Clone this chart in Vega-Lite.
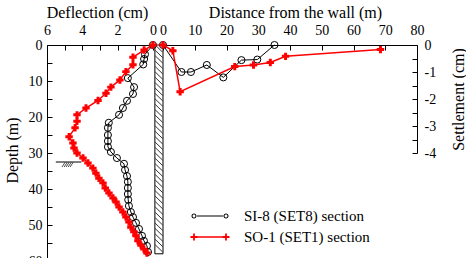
{
  "$schema": "https://vega.github.io/schema/vega-lite/v6.json",
  "background": "white",
  "padding": {"left": 4, "top": 4, "right": 2, "bottom": 0},
  "datasets": {
    "si8d": [
      {"defl": 0, "depth": 0}, {"defl": 0.45, "depth": 2.6}, {"defl": 0.5, "depth": 3.9}, {"defl": 0.55, "depth": 5.4},
      {"defl": 1.42, "depth": 9.2}, {"defl": 1.07, "depth": 11.7}, {"defl": 1.13, "depth": 13.6}, {"defl": 1.47, "depth": 15.5},
      {"defl": 1.7, "depth": 17.5}, {"defl": 1.92, "depth": 19.4}, {"defl": 2.5, "depth": 21.6}, {"defl": 2.55, "depth": 23},
      {"defl": 2.55, "depth": 25}, {"defl": 2.55, "depth": 26.7}, {"defl": 2.55, "depth": 28.3}, {"defl": 2.38, "depth": 29.7},
      {"defl": 2.04, "depth": 31.4}, {"defl": 1.64, "depth": 33}, {"defl": 1.58, "depth": 34.7}, {"defl": 1.47, "depth": 36.4},
      {"defl": 1.42, "depth": 38}, {"defl": 1.42, "depth": 39.7}, {"defl": 1.42, "depth": 41.4}, {"defl": 1.4, "depth": 43},
      {"defl": 1.36, "depth": 44.7}, {"defl": 1.25, "depth": 46.4}, {"defl": 1.13, "depth": 47.8}, {"defl": 0.96, "depth": 49.4},
      {"defl": 0.79, "depth": 51.1}, {"defl": 0.62, "depth": 53}, {"defl": 0.51, "depth": 54.4}, {"defl": 0.34, "depth": 55.8},
      {"defl": 0.28, "depth": 57.5}
    ],
    "so1d": [
      {"defl": 0, "depth": 0}, {"defl": 0.5, "depth": 1.4}, {"defl": 1.13, "depth": 3.4}, {"defl": 1.13, "depth": 5.5},
      {"defl": 1.53, "depth": 7.4}, {"defl": 1.87, "depth": 9.7}, {"defl": 2.38, "depth": 11.7}, {"defl": 2.66, "depth": 13.4},
      {"defl": 3.11, "depth": 15.4}, {"defl": 3.79, "depth": 17.5}, {"defl": 4.3, "depth": 19.4}, {"defl": 4.3, "depth": 21.2},
      {"defl": 4.41, "depth": 23}, {"defl": 4.75, "depth": 25.5}, {"defl": 4.53, "depth": 27.2}, {"defl": 4.47, "depth": 28.6},
      {"defl": 4.3, "depth": 30}, {"defl": 3.96, "depth": 31.4}, {"defl": 3.68, "depth": 32.8}, {"defl": 3.4, "depth": 34.2},
      {"defl": 3.23, "depth": 35.6}, {"defl": 3.06, "depth": 37}, {"defl": 2.83, "depth": 38.3}, {"defl": 2.7, "depth": 39.7},
      {"defl": 2.49, "depth": 41.1}, {"defl": 2.26, "depth": 42.5}, {"defl": 2.09, "depth": 43.6}, {"defl": 1.92, "depth": 45},
      {"defl": 1.7, "depth": 46.4}, {"defl": 1.53, "depth": 47.8}, {"defl": 1.36, "depth": 49.2}, {"defl": 1.25, "depth": 50.6},
      {"defl": 1.08, "depth": 51.9}, {"defl": 0.96, "depth": 53}, {"defl": 0.85, "depth": 54.4}, {"defl": 0.68, "depth": 55.6},
      {"defl": 0.51, "depth": 56.7}, {"defl": 0.34, "depth": 57.8}
    ],
    "si8s": [
      {"dist": 0, "settle": 0}, {"dist": 5.8, "settle": -1.0}, {"dist": 8.8, "settle": -1.0}, {"dist": 13.8, "settle": -0.74},
      {"dist": 19, "settle": -1.2}, {"dist": 24.7, "settle": -0.56}, {"dist": 29.7, "settle": -0.54}, {"dist": 35.1, "settle": 0}
    ],
    "so1s": [
      {"dist": 0, "settle": 0}, {"dist": 3.1, "settle": -0.21}, {"dist": 5.4, "settle": -1.73}, {"dist": 22.6, "settle": -0.8},
      {"dist": 28.5, "settle": -0.74}, {"dist": 33.8, "settle": -0.65}, {"dist": 38.6, "settle": -0.42}, {"dist": 68.5, "settle": -0.17}
    ],
    "wall": [{"left": -0.11, "right": -0.57, "top": 0, "bottom": 58}],
    "hatch": [
      {"h0": 0, "h1": 2}, {"h0": 1.5, "h1": 3.5}, {"h0": 3, "h1": 5}, {"h0": 4.5, "h1": 6.5}, {"h0": 6, "h1": 8},
      {"h0": 7.5, "h1": 9.5}, {"h0": 9, "h1": 11}, {"h0": 10.5, "h1": 12.5}, {"h0": 12, "h1": 14}, {"h0": 13.5, "h1": 15.5},
      {"h0": 15, "h1": 17}, {"h0": 16.5, "h1": 18.5}, {"h0": 18, "h1": 20}, {"h0": 19.5, "h1": 21.5}, {"h0": 21, "h1": 23},
      {"h0": 22.5, "h1": 24.5}, {"h0": 24, "h1": 26}, {"h0": 25.5, "h1": 27.5}, {"h0": 27, "h1": 29}, {"h0": 28.5, "h1": 30.5},
      {"h0": 30, "h1": 32}, {"h0": 31.5, "h1": 33.5}, {"h0": 33, "h1": 35}, {"h0": 34.5, "h1": 36.5}, {"h0": 36, "h1": 38},
      {"h0": 37.5, "h1": 39.5}, {"h0": 39, "h1": 41}, {"h0": 40.5, "h1": 42.5}, {"h0": 42, "h1": 44}, {"h0": 43.5, "h1": 45.5},
      {"h0": 45, "h1": 47}, {"h0": 46.5, "h1": 48.5}, {"h0": 48, "h1": 50}, {"h0": 49.5, "h1": 51.5}, {"h0": 51, "h1": 53},
      {"h0": 52.5, "h1": 54.5}, {"h0": 54, "h1": 56}, {"h0": 55.5, "h1": 57.5}
    ],
    "ground": [{"a": 5.5, "b": 4.05, "depth": 32.5}],
    "groundHatch": [
      {"a": 5.15, "b": 4.98, "z0": 33.9, "z1": 32.6}, {"a": 5.03, "b": 4.86, "z0": 33.9, "z1": 32.6},
      {"a": 4.92, "b": 4.75, "z0": 33.9, "z1": 32.6}, {"a": 4.8, "b": 4.63, "z0": 33.9, "z1": 32.6},
      {"a": 4.69, "b": 4.52, "z0": 33.9, "z1": 32.6}
    ]
  },
  "spacing": 0,
  "bounds": "flush",
  "resolve": {
    "scale": {"x": "independent", "y": "independent", "color": "independent", "shape": "independent"},
    "legend": {"color": "independent", "shape": "independent"}
  },
  "hconcat": [
    {
      "width": 116,
      "height": 216,
      "layer": [
        {
          "data": {"name": "wall"},
          "mark": {"type": "rect", "fill": "white", "stroke": "black", "strokeWidth": 1},
          "encoding": {
            "x": {
              "field": "left", "type": "quantitative",
              "scale": {"domain": [-0.57, 6], "reverse": true, "nice": false, "zero": false},
              "axis": {
                "orient": "top", "title": "Deflection (cm)", "values": [0, 1, 2, 3, 4, 5, 6], "tickCount": 100,
                "labelExpr": "datum.value % 2 == 0 ? '' + datum.value : ''",
                "tickSize": -5, "labelPadding": 13, "labelFlush": false, "labelOverlap": false, "grid": false,
                "titleX": 50, "titleY": -28, "titleBaseline": "alphabetic", "titleAnchor": null
              }
            },
            "x2": {"field": "right"},
            "y": {
              "field": "top", "type": "quantitative",
              "scale": {"domain": [0, 60], "reverse": true, "nice": false, "zero": false},
              "axis": {
                "orient": "left", "title": "Depth (m)", "values": [0, 5, 10, 15, 20, 25, 30, 35, 40, 45, 50, 55, 60], "tickCount": 100,
                "labelExpr": "datum.value % 10 == 0 ? '' + datum.value : ''",
                "tickSize": -5, "labelPadding": 10, "labelFlush": false, "labelOverlap": false, "grid": false,
                "titleX": -35, "titleY": 105, "titleBaseline": "middle", "titleAngle": 270
              }
            },
            "y2": {"field": "bottom"}
          }
        },
        {
          "data": {"name": "hatch"},
          "mark": {"type": "rule", "stroke": "black", "strokeWidth": 0.8},
          "encoding": {
            "x": {"datum": -0.13, "type": "quantitative"},
            "x2": {"datum": -0.55},
            "y": {"field": "h0", "type": "quantitative"},
            "y2": {"field": "h1"}
          }
        },
        {
          "data": {"name": "ground"},
          "mark": {"type": "rule", "stroke": "black", "strokeWidth": 1},
          "encoding": {
            "x": {"field": "a", "type": "quantitative"},
            "x2": {"field": "b"},
            "y": {"field": "depth", "type": "quantitative"}
          }
        },
        {
          "data": {"name": "groundHatch"},
          "mark": {"type": "rule", "stroke": "black", "strokeWidth": 0.7},
          "encoding": {
            "x": {"field": "a", "type": "quantitative"},
            "x2": {"field": "b"},
            "y": {"field": "z0", "type": "quantitative"},
            "y2": {"field": "z1"}
          }
        },
        {
          "data": {"name": "si8d"},
          "mark": {"type": "line", "color": "black", "strokeWidth": 1},
          "encoding": {
            "x": {"field": "defl", "type": "quantitative"},
            "y": {"field": "depth", "type": "quantitative"},
            "order": {"field": "depth"}
          }
        },
        {
          "data": {"name": "si8d"},
          "mark": {"type": "point", "shape": "circle", "filled": false, "stroke": "black", "strokeWidth": 1, "size": 50, "opacity": 1},
          "encoding": {
            "x": {"field": "defl", "type": "quantitative"},
            "y": {"field": "depth", "type": "quantitative"}
          }
        },
        {
          "data": {"name": "so1d"},
          "mark": {"type": "line", "color": "red", "strokeWidth": 1.5},
          "encoding": {
            "x": {"field": "defl", "type": "quantitative"},
            "y": {"field": "depth", "type": "quantitative"},
            "order": {"field": "depth"}
          }
        },
        {
          "data": {"name": "so1d"},
          "mark": {"type": "point", "shape": "cross", "filled": true, "color": "red", "size": 55, "opacity": 1},
          "encoding": {
            "x": {"field": "defl", "type": "quantitative"},
            "y": {"field": "depth", "type": "quantitative"}
          }
        }
      ]
    },
    {
      "width": 254,
      "height": 108,
      "layer": [
        {
          "data": {"name": "si8s"},
          "mark": {"type": "line", "color": "black", "strokeWidth": 1},
          "encoding": {
            "x": {
              "field": "dist", "type": "quantitative",
              "scale": {"domain": [0, 80], "nice": false, "zero": false},
              "axis": {
                "orient": "top", "title": "Distance from the wall (m)", "values": [0, 10, 20, 30, 40, 50, 60, 70, 80], "tickCount": 100,
                "labelExpr": "'' + datum.value",
                "tickSize": -5, "labelPadding": 13, "labelFlush": false, "labelOverlap": false, "grid": false,
                "titleX": 132, "titleY": -28, "titleBaseline": "alphabetic", "titleAnchor": null
              }
            },
            "y": {
              "field": "settle", "type": "quantitative",
              "scale": {"domain": [-4, 0], "nice": false, "zero": false},
              "axis": {
                "orient": "right", "title": "Settlement (cm)", "titleAngle": 270,
                "values": [0, -0.5, -1, -1.5, -2, -2.5, -3, -3.5, -4], "tickCount": 100,
                "labelExpr": "datum.value % 1 == 0 ? '' + datum.value : ''",
                "tickSize": -5, "labelPadding": 12, "labelFlush": false, "labelOverlap": false, "grid": false,
                "titleX": 41, "titleY": 54, "titleBaseline": "middle"
              }
            },
            "order": {"field": "dist"}
          }
        },
        {
          "data": {"name": "si8s"},
          "mark": {"type": "point", "shape": "circle", "filled": false, "stroke": "black", "strokeWidth": 1, "size": 50, "opacity": 1},
          "encoding": {
            "x": {"field": "dist", "type": "quantitative"},
            "y": {"field": "settle", "type": "quantitative"}
          }
        },
        {
          "data": {"name": "so1s"},
          "mark": {"type": "line", "color": "red", "strokeWidth": 1.5},
          "encoding": {
            "x": {"field": "dist", "type": "quantitative"},
            "y": {"field": "settle", "type": "quantitative"},
            "order": {"field": "dist"}
          }
        },
        {
          "data": {"name": "so1s"},
          "mark": {"type": "point", "shape": "cross", "filled": true, "color": "red", "size": 55, "opacity": 1},
          "encoding": {
            "x": {"field": "dist", "type": "quantitative"},
            "y": {"field": "settle", "type": "quantitative"}
          }
        },
        {
          "data": {"name": "si8s"},
          "transform": [{"filter": "false"}],
          "mark": {"type": "point", "filled": true, "opacity": 1},
          "encoding": {
            "x": {"field": "dist", "type": "quantitative"},
            "y": {"field": "settle", "type": "quantitative"},
            "color": {
              "field": "series", "type": "nominal",
              "scale": {"domain": ["SI-8 (SET8) section", "SO-1 (SET1) section"], "range": ["black", "red"]},
              "legend": {"title": null, "orient": "none", "legendX": 37, "legendY": 161}
            },
            "shape": {
              "field": "series", "type": "nominal",
              "scale": {
                "domain": ["SI-8 (SET8) section", "SO-1 (SET1) section"],
                "range": [
                  "M-1.3,-0.05H1.3V0.05H-1.3Z M-1.85,0A0.25,0.25 0 1,1 -1.35,0A0.25,0.25 0 1,1 -1.85,0Z M-1.75,0A0.15,0.15 0 1,0 -1.45,0A0.15,0.15 0 1,0 -1.75,0Z M1.35,0A0.25,0.25 0 1,1 1.85,0A0.25,0.25 0 1,1 1.35,0Z M1.45,0A0.15,0.15 0 1,0 1.75,0A0.15,0.15 0 1,0 1.45,0Z",
                  "M-1.6,-0.08H1.6V0.08H-1.6Z M-1.69,-0.35H-1.51V-0.09H-1.25V0.09H-1.51V0.35H-1.69V0.09H-1.95V-0.09H-1.69Z M1.51,-0.35H1.69V-0.09H1.95V0.09H1.69V0.35H1.51V0.09H1.25V-0.09H1.51Z"
                ]
              },
              "legend": {"title": null, "orient": "none", "legendX": 37, "legendY": 161}
            }
          }
        }
      ]
    }
  ],
  "config": {
    "font": "Liberation Serif",
    "view": {"stroke": null},
    "axis": {
      "domainColor": "black", "tickColor": "black", "labelColor": "black", "titleColor": "black",
      "labelFont": "Liberation Serif", "titleFont": "Liberation Serif",
      "labelFontSize": 14, "titleFontSize": 16, "titleFontWeight": "normal",
      "domainWidth": 1, "tickWidth": 1, "labelOverlap": false
    },
    "legend": {
      "labelFont": "Liberation Serif", "labelFontSize": 15, "labelColor": "black",
      "symbolSize": 400, "symbolStrokeWidth": 0, "labelOffset": 24, "rowPadding": 3, "padding": 0
    }
  }
}
